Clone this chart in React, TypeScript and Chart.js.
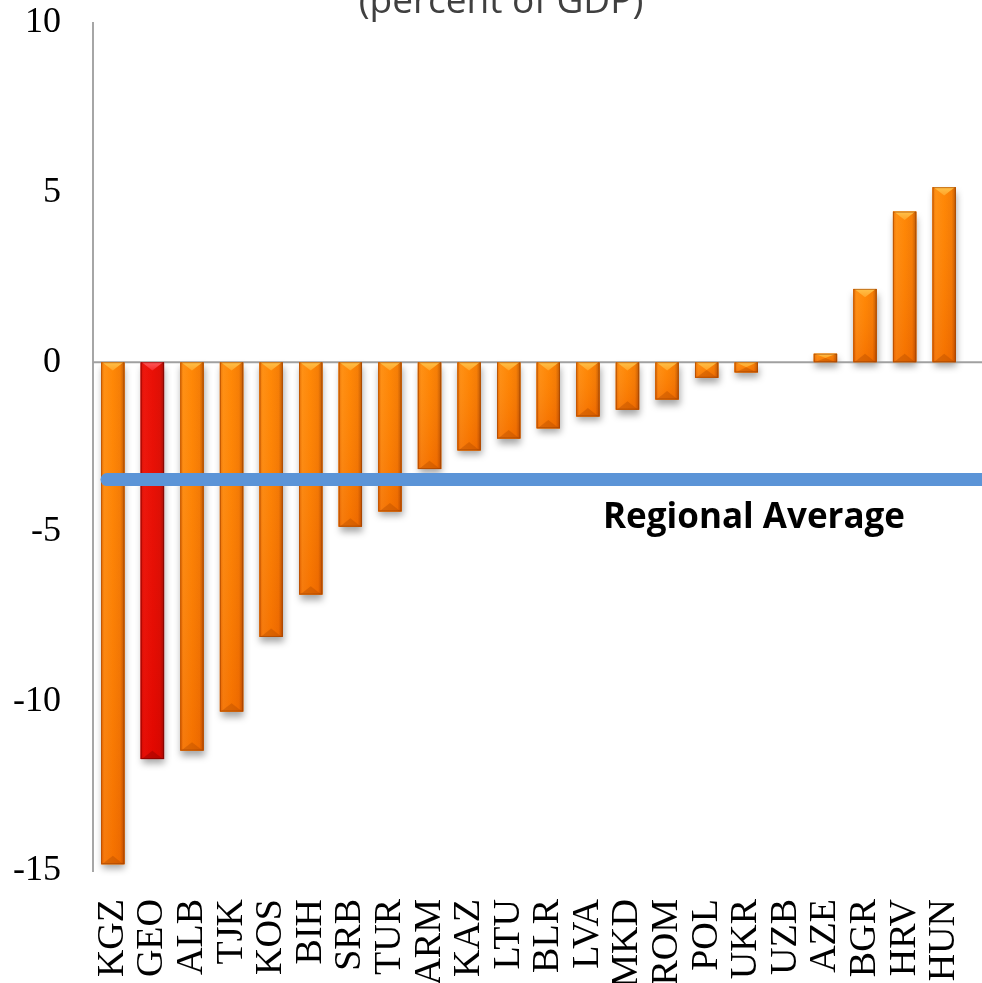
import { useEffect, useRef } from 'react';
import { Chart, registerables } from 'chart.js';

Chart.register(...registerables);

// Current account balance by country (percent of GDP)
const countries = [
  'KGZ', 'GEO', 'ALB', 'TJK', 'KOS', 'BIH', 'SRB', 'TUR', 'ARM', 'KAZ', 'LTU',
  'BLR', 'LVA', 'MKD', 'ROM', 'POL', 'UKR', 'UZB', 'AZE', 'BGR', 'HRV', 'HUN',
];
const balance = [
  -14.8, -11.7, -11.45, -10.3, -8.1, -6.85, -4.85, -4.4, -3.15, -2.6, -2.25,
  -1.95, -1.6, -1.4, -1.1, -0.46, -0.3, 0, 0.25, 2.16, 4.44, 5.16,
];
const highlighted = ['GEO'];
const regionalAverage = -3.46;
const yTicks = [10, 5, 0, -5, -10, -15];
const subtitle = '(percent of GDP)';
const averageLabel = 'Regional Average';

type Palette = {
  base: string;
  edgeL: string;
  light: string;
  mid: string;
  mid2: string;
  edgeR: string;
  capA: string;
  capB: string;
  foot: string;
  outline: string;
};

const orange: Palette = {
  base: '#ff8000',
  edgeL: '#e86c00',
  light: '#ff8c10',
  mid: '#ff8200',
  mid2: '#f57800',
  edgeR: '#b85200',
  capA: '#ffc24a',
  capB: '#ffa226',
  foot: 'rgba(170,70,0,0.35)',
  outline: 'rgba(150,60,0,0.55)',
};

const red: Palette = {
  base: '#e60000',
  edgeL: '#d00000',
  light: '#ec0808',
  mid: '#e80000',
  mid2: '#dc0000',
  edgeR: '#9c0000',
  capA: '#ff5a5a',
  capB: '#f52a2a',
  foot: 'rgba(120,0,0,0.35)',
  outline: 'rgba(110,0,0,0.55)',
};

const paletteFor = (i: number) => (highlighted.includes(countries[i]) ? red : orange);

function barRect(el: any) {
  const p = el.getProps(['x', 'y', 'base', 'width'], true);
  const top = Math.min(p.y, p.base);
  const bottom = Math.max(p.y, p.base);
  return { x: p.x, w: p.width, top, bottom, h: bottom - top };
}

// Soft drop shadow behind each bar, plus the zero line across the whole width
const backdropPlugin = {
  id: 'backdrop',
  beforeDatasetsDraw(chart: any) {
    const { ctx } = chart;
    const meta = chart.getDatasetMeta(0);
    const yScale = chart.scales.y;
    ctx.save();
    meta.data.forEach((el: any, i: number) => {
      const r = barRect(el);
      if (r.h < 0.5) return;
      ctx.shadowColor = 'rgba(0,0,0,0.35)';
      ctx.shadowBlur = 7;
      ctx.shadowOffsetX = 1;
      ctx.shadowOffsetY = 5;
      ctx.fillStyle = paletteFor(i).base;
      ctx.fillRect(r.x - r.w / 2, r.top, r.w, r.h);
    });
    ctx.restore();

    const y0 = yScale.getPixelForValue(0);
    ctx.save();
    ctx.strokeStyle = '#a0a0a0';
    ctx.lineWidth = 2;
    ctx.beginPath();
    ctx.moveTo(chart.chartArea.left, y0);
    ctx.lineTo(chart.width, y0);
    ctx.stroke();
    ctx.restore();
  },
};

// Bevelled, cylinder-like shading over each bar, then the regional average line and texts
const finishPlugin = {
  id: 'finish',
  afterDatasetsDraw(chart: any) {
    const { ctx } = chart;
    const meta = chart.getDatasetMeta(0);
    ctx.save();
    meta.data.forEach((el: any, i: number) => {
      const r = barRect(el);
      if (r.h < 0.5) return;
      const pal = paletteFor(i);
      const l = r.x - r.w / 2;
      const rt = r.x + r.w / 2;

      const g = ctx.createLinearGradient(l, 0, rt, 0);
      g.addColorStop(0, pal.edgeL);
      g.addColorStop(0.14, pal.light);
      g.addColorStop(0.5, pal.mid);
      g.addColorStop(0.82, pal.mid2);
      g.addColorStop(1, pal.edgeR);
      ctx.fillStyle = g;
      ctx.fillRect(l, r.top, r.w, r.h);

      // slightly deeper tone toward the far end of tall bars
      const v = ctx.createLinearGradient(0, r.top, 0, r.bottom);
      v.addColorStop(0, 'rgba(255,200,80,0.08)');
      v.addColorStop(1, 'rgba(200,40,0,0.18)');
      ctx.fillStyle = v;
      ctx.fillRect(l, r.top, r.w, r.h);

      const d = Math.min(r.w * 0.36, r.h / 2);
      // light bevel at the top end
      const cg = ctx.createLinearGradient(0, r.top, 0, r.top + d);
      cg.addColorStop(0, pal.capA);
      cg.addColorStop(1, pal.capB);
      ctx.fillStyle = cg;
      ctx.beginPath();
      ctx.moveTo(l + 1, r.top);
      ctx.lineTo(rt - 1, r.top);
      ctx.lineTo(r.x, r.top + d);
      ctx.closePath();
      ctx.fill();

      // darker bevel at the bottom end
      ctx.fillStyle = pal.foot;
      ctx.beginPath();
      ctx.moveTo(l + 1, r.bottom);
      ctx.lineTo(rt - 1, r.bottom);
      ctx.lineTo(r.x, r.bottom - d);
      ctx.closePath();
      ctx.fill();

      ctx.strokeStyle = pal.outline;
      ctx.lineWidth = 1;
      ctx.strokeRect(l + 0.5, r.top + 0.5, r.w - 1, r.h - 1);
    });
    ctx.restore();

    // Regional average line
    const yAvg = chart.scales.y.getPixelForValue(regionalAverage);
    ctx.save();
    ctx.strokeStyle = '#5b94d7';
    ctx.lineWidth = 13;
    ctx.lineCap = 'round';
    ctx.beginPath();
    ctx.moveTo(chart.chartArea.left + 14, yAvg);
    ctx.lineTo(chart.width + 20, yAvg);
    ctx.stroke();

    ctx.fillStyle = '#000000';
    ctx.font = 'bold 35px "Open Sans", sans-serif';
    ctx.textAlign = 'left';
    ctx.textBaseline = 'alphabetic';
    ctx.fillText(averageLabel, 603, yAvg + 48);

    ctx.fillStyle = '#404040';
    ctx.font = '37px "Open Sans", sans-serif';
    ctx.textAlign = 'center';
    ctx.fillText(subtitle, 501, 13);
    ctx.restore();
  },
};

export default function App() {
  const canvasRef = useRef<HTMLCanvasElement>(null);

  useEffect(() => {
    const canvas = canvasRef.current;
    if (!canvas) return;
    const chart = new Chart(canvas, {
      type: 'bar',
      data: {
        labels: countries,
        datasets: [
          {
            data: balance,
            backgroundColor: countries.map((_, i) => paletteFor(i).base),
            borderWidth: 0,
            categoryPercentage: 1,
            barPercentage: 0.59,
          },
        ],
      },
      options: {
        animation: false,
        responsive: true,
        maintainAspectRatio: false,
        layout: { padding: { top: 23, right: 18, left: 0, bottom: 0 } },
        plugins: {
          legend: { display: false },
          tooltip: { enabled: false },
          title: { display: false },
        },
        scales: {
          x: {
            grid: { display: false, drawTicks: false },
            border: { display: false },
            ticks: {
              autoSkip: false,
              maxRotation: 90,
              minRotation: 90,
              padding: 28,
              color: '#000000',
              font: { family: '"Liberation Serif", "Times New Roman", serif', size: 38 },
            },
            afterFit: (s: any) => {
              s.height = 112;
              s.paddingLeft = 0;
              s.paddingRight = 0;
            },
          },
          y: {
            min: -15,
            max: 10,
            afterBuildTicks: (s: any) => {
              s.ticks = yTicks.map((v) => ({ value: v }));
            },
            grid: { display: false, drawTicks: false },
            border: { display: true, color: '#a6a6a6', width: 2 },
            ticks: {
              padding: 32,
              color: '#000000',
              font: { family: '"Liberation Serif", "Times New Roman", serif', size: 36 },
            },
            afterFit: (s: any) => {
              s.width = 93;
              s.paddingTop = 0;
              s.paddingBottom = 0;
            },
          },
        },
      },
      plugins: [backdropPlugin, finishPlugin],
    });
    return () => chart.destroy();
  }, []);

  return (
    <div style={{ position: 'fixed', left: 0, top: 0, width: 982, height: 983, background: '#ffffff' }}>
      <canvas ref={canvasRef} />
    </div>
  );
}
